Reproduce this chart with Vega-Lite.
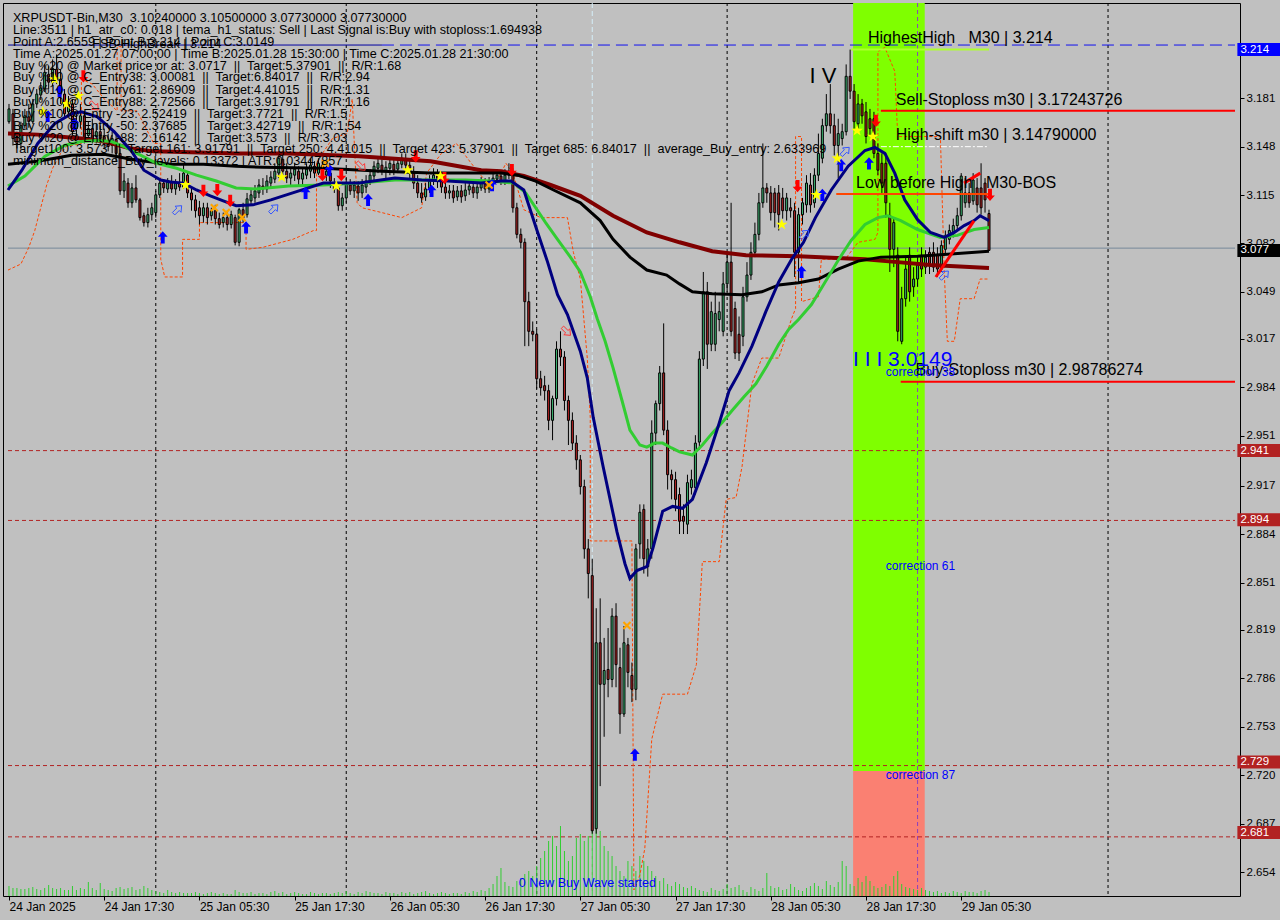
{
"$schema":"https://vega.github.io/schema/vega-lite/v6.json",
"width":1237,"height":893,
"autosize":{"type":"none"},
"padding":{"left":3,"top":3,"right":40,"bottom":24},
"background":"#c0c0c0",
"config":{"font":"Liberation Sans","view":{"stroke":"#000000","strokeWidth":1,"fill":"#c0c0c0"},
"axis":{"domain":false,"grid":false,"labelFont":"Liberation Sans","labelColor":"#000000","tickColor":"#000000","tickSize":4,"labelOverlap":false,"labelFlush":false,"labelBound":false}},
"datasets":{
"candles":[
{"i":0,"o":3.1649,"h":3.1770,"l":3.1635,"c":3.1736,"v":1000},
{"i":1,"o":3.1703,"h":3.1736,"l":3.1487,"c":3.1534,"v":800},
{"i":2,"o":3.1548,"h":3.1581,"l":3.1467,"c":3.1501,"v":800},
{"i":3,"o":3.1501,"h":3.1649,"l":3.1460,"c":3.1622,"v":700},
{"i":4,"o":3.1622,"h":3.1736,"l":3.1602,"c":3.1689,"v":700},
{"i":5,"o":3.1682,"h":3.1770,"l":3.1608,"c":3.1649,"v":800},
{"i":6,"o":3.1649,"h":3.1804,"l":3.1635,"c":3.1770,"v":900},
{"i":7,"o":3.1770,"h":3.1871,"l":3.1743,"c":3.1837,"v":700},
{"i":8,"o":3.1831,"h":3.1918,"l":3.1797,"c":3.1878,"v":600},
{"i":9,"o":3.1871,"h":3.2039,"l":3.1851,"c":3.1985,"v":800},
{"i":10,"o":3.1972,"h":3.2026,"l":3.1871,"c":3.1918,"v":1100},
{"i":11,"o":3.1918,"h":3.2073,"l":3.1891,"c":3.2012,"v":800},
{"i":12,"o":3.2006,"h":3.2107,"l":3.1905,"c":3.1938,"v":700},
{"i":13,"o":3.1938,"h":3.2006,"l":3.1770,"c":3.1837,"v":800},
{"i":14,"o":3.1837,"h":3.1871,"l":3.1669,"c":3.1703,"v":600},
{"i":15,"o":3.1716,"h":3.1824,"l":3.1689,"c":3.1770,"v":600},
{"i":16,"o":3.1770,"h":3.1804,"l":3.1555,"c":3.1581,"v":1000},
{"i":17,"o":3.1602,"h":3.1703,"l":3.1534,"c":3.1649,"v":600},
{"i":18,"o":3.1649,"h":3.1770,"l":3.1602,"c":3.1689,"v":800},
{"i":19,"o":3.1689,"h":3.1716,"l":3.1501,"c":3.1534,"v":700},
{"i":20,"o":3.1555,"h":3.1649,"l":3.1514,"c":3.1602,"v":1400},
{"i":21,"o":3.1602,"h":3.1669,"l":3.1501,"c":3.1534,"v":800},
{"i":22,"o":3.1548,"h":3.1635,"l":3.1501,"c":3.1581,"v":600},
{"i":23,"o":3.1581,"h":3.1622,"l":3.1487,"c":3.1534,"v":1300},
{"i":24,"o":3.1548,"h":3.1602,"l":3.1467,"c":3.1501,"v":700},
{"i":25,"o":3.1514,"h":3.1568,"l":3.1447,"c":3.1480,"v":600},
{"i":26,"o":3.1487,"h":3.1581,"l":3.1433,"c":3.1534,"v":500},
{"i":27,"o":3.1528,"h":3.1568,"l":3.1380,"c":3.1433,"v":800},
{"i":28,"o":3.1433,"h":3.1467,"l":3.1151,"c":3.1178,"v":900},
{"i":29,"o":3.1178,"h":3.1299,"l":3.1130,"c":3.1245,"v":700},
{"i":30,"o":3.1231,"h":3.1265,"l":3.1063,"c":3.1097,"v":800},
{"i":31,"o":3.1097,"h":3.1231,"l":3.1063,"c":3.1198,"v":900},
{"i":32,"o":3.1198,"h":3.1285,"l":3.1097,"c":3.1117,"v":600},
{"i":33,"o":3.1117,"h":3.1130,"l":3.0976,"c":3.0996,"v":700},
{"i":34,"o":3.1009,"h":3.1030,"l":3.0935,"c":3.0962,"v":1000},
{"i":35,"o":3.0962,"h":3.1063,"l":3.0929,"c":3.1016,"v":800},
{"i":36,"o":3.1016,"h":3.1097,"l":3.0976,"c":3.1063,"v":600},
{"i":37,"o":3.1030,"h":3.1178,"l":3.0996,"c":3.1151,"v":500},
{"i":38,"o":3.1151,"h":3.1265,"l":3.1130,"c":3.1231,"v":400},
{"i":39,"o":3.1231,"h":3.1258,"l":3.1164,"c":3.1198,"v":300},
{"i":40,"o":3.1191,"h":3.1265,"l":3.1164,"c":3.1238,"v":600},
{"i":41,"o":3.1238,"h":3.1285,"l":3.1164,"c":3.1191,"v":400},
{"i":42,"o":3.1191,"h":3.1258,"l":3.1151,"c":3.1231,"v":300},
{"i":43,"o":3.1231,"h":3.1299,"l":3.1178,"c":3.1204,"v":400},
{"i":44,"o":3.1204,"h":3.1366,"l":3.1191,"c":3.1299,"v":300},
{"i":45,"o":3.1285,"h":3.1312,"l":3.1130,"c":3.1164,"v":300},
{"i":46,"o":3.1164,"h":3.1198,"l":3.1043,"c":3.1117,"v":300},
{"i":47,"o":3.1117,"h":3.1151,"l":3.0996,"c":3.1043,"v":400},
{"i":48,"o":3.1063,"h":3.1110,"l":3.0949,"c":3.1009,"v":300},
{"i":49,"o":3.1009,"h":3.1097,"l":3.0962,"c":3.1063,"v":200},
{"i":50,"o":3.1063,"h":3.1097,"l":3.0949,"c":3.0996,"v":300},
{"i":51,"o":3.1009,"h":3.1063,"l":3.0976,"c":3.1043,"v":400},
{"i":52,"o":3.1043,"h":3.1083,"l":3.0949,"c":3.0989,"v":300},
{"i":53,"o":3.0989,"h":3.1030,"l":3.0922,"c":3.0949,"v":200},
{"i":54,"o":3.0962,"h":3.1030,"l":3.0929,"c":3.0996,"v":300},
{"i":55,"o":3.0996,"h":3.1043,"l":3.0908,"c":3.0949,"v":200},
{"i":56,"o":3.0949,"h":3.1043,"l":3.0922,"c":3.1016,"v":200},
{"i":57,"o":3.0996,"h":3.1016,"l":3.0807,"c":3.0828,"v":600},
{"i":58,"o":3.0828,"h":3.1063,"l":3.0801,"c":3.1050,"v":400},
{"i":59,"o":3.1050,"h":3.1097,"l":3.0962,"c":3.0996,"v":300},
{"i":60,"o":3.1016,"h":3.1164,"l":3.0996,"c":3.1124,"v":300},
{"i":61,"o":3.1110,"h":3.1198,"l":3.1083,"c":3.1151,"v":400},
{"i":62,"o":3.1130,"h":3.1218,"l":3.1097,"c":3.1178,"v":200},
{"i":63,"o":3.1164,"h":3.1258,"l":3.1130,"c":3.1218,"v":300},
{"i":64,"o":3.1211,"h":3.1265,"l":3.1151,"c":3.1191,"v":300},
{"i":65,"o":3.1191,"h":3.1285,"l":3.1164,"c":3.1245,"v":200},
{"i":66,"o":3.1231,"h":3.1312,"l":3.1204,"c":3.1272,"v":400},
{"i":67,"o":3.1258,"h":3.1366,"l":3.1231,"c":3.1312,"v":500},
{"i":68,"o":3.1299,"h":3.1447,"l":3.1265,"c":3.1400,"v":300},
{"i":69,"o":3.1393,"h":3.1433,"l":3.1285,"c":3.1312,"v":400},
{"i":70,"o":3.1312,"h":3.1366,"l":3.1231,"c":3.1265,"v":200},
{"i":71,"o":3.1265,"h":3.1332,"l":3.1218,"c":3.1299,"v":300},
{"i":72,"o":3.1285,"h":3.1366,"l":3.1245,"c":3.1326,"v":400},
{"i":73,"o":3.1312,"h":3.1346,"l":3.1218,"c":3.1258,"v":300},
{"i":74,"o":3.1258,"h":3.1332,"l":3.1218,"c":3.1299,"v":200},
{"i":75,"o":3.1285,"h":3.1366,"l":3.1258,"c":3.1326,"v":200},
{"i":76,"o":3.1312,"h":3.1400,"l":3.1265,"c":3.1353,"v":400},
{"i":77,"o":3.1346,"h":3.1380,"l":3.1265,"c":3.1299,"v":300},
{"i":78,"o":3.1299,"h":3.1400,"l":3.1285,"c":3.1366,"v":200},
{"i":79,"o":3.1353,"h":3.1393,"l":3.1258,"c":3.1285,"v":300},
{"i":80,"o":3.1285,"h":3.1353,"l":3.1245,"c":3.1312,"v":300},
{"i":81,"o":3.1299,"h":3.1346,"l":3.1198,"c":3.1245,"v":200},
{"i":82,"o":3.1231,"h":3.1265,"l":3.1164,"c":3.1191,"v":300},
{"i":83,"o":3.1198,"h":3.1231,"l":3.1043,"c":3.1077,"v":400},
{"i":84,"o":3.1077,"h":3.1164,"l":3.1043,"c":3.1130,"v":300},
{"i":85,"o":3.1130,"h":3.1265,"l":3.1097,"c":3.1231,"v":500},
{"i":86,"o":3.1218,"h":3.1258,"l":3.1151,"c":3.1178,"v":300},
{"i":87,"o":3.1178,"h":3.1245,"l":3.1130,"c":3.1218,"v":200},
{"i":88,"o":3.1211,"h":3.1245,"l":3.1110,"c":3.1164,"v":400},
{"i":89,"o":3.1164,"h":3.1258,"l":3.1130,"c":3.1218,"v":300},
{"i":90,"o":3.1204,"h":3.1285,"l":3.1164,"c":3.1245,"v":500},
{"i":91,"o":3.1245,"h":3.1326,"l":3.1218,"c":3.1285,"v":400},
{"i":92,"o":3.1279,"h":3.1380,"l":3.1245,"c":3.1346,"v":300},
{"i":93,"o":3.1332,"h":3.1400,"l":3.1299,"c":3.1366,"v":300},
{"i":94,"o":3.1353,"h":3.1393,"l":3.1285,"c":3.1312,"v":200},
{"i":95,"o":3.1312,"h":3.1380,"l":3.1265,"c":3.1339,"v":400},
{"i":96,"o":3.1332,"h":3.1400,"l":3.1285,"c":3.1366,"v":300},
{"i":97,"o":3.1359,"h":3.1393,"l":3.1285,"c":3.1319,"v":300},
{"i":98,"o":3.1326,"h":3.1406,"l":3.1299,"c":3.1366,"v":200},
{"i":99,"o":3.1359,"h":3.1433,"l":3.1332,"c":3.1400,"v":400},
{"i":100,"o":3.1393,"h":3.1433,"l":3.1312,"c":3.1353,"v":300},
{"i":101,"o":3.1353,"h":3.1400,"l":3.1258,"c":3.1299,"v":400},
{"i":102,"o":3.1299,"h":3.1346,"l":3.1191,"c":3.1231,"v":200},
{"i":103,"o":3.1231,"h":3.1285,"l":3.1130,"c":3.1164,"v":300},
{"i":104,"o":3.1164,"h":3.1231,"l":3.1097,"c":3.1130,"v":400},
{"i":105,"o":3.1137,"h":3.1231,"l":3.1110,"c":3.1191,"v":500},
{"i":106,"o":3.1191,"h":3.1285,"l":3.1164,"c":3.1245,"v":300},
{"i":107,"o":3.1245,"h":3.1332,"l":3.1218,"c":3.1285,"v":200},
{"i":108,"o":3.1279,"h":3.1326,"l":3.1198,"c":3.1245,"v":300},
{"i":109,"o":3.1245,"h":3.1285,"l":3.1164,"c":3.1204,"v":400},
{"i":110,"o":3.1204,"h":3.1245,"l":3.1124,"c":3.1164,"v":300},
{"i":111,"o":3.1164,"h":3.1218,"l":3.1124,"c":3.1178,"v":200},
{"i":112,"o":3.1178,"h":3.1218,"l":3.1097,"c":3.1130,"v":300},
{"i":113,"o":3.1137,"h":3.1211,"l":3.1110,"c":3.1178,"v":300},
{"i":114,"o":3.1178,"h":3.1218,"l":3.1097,"c":3.1137,"v":200},
{"i":115,"o":3.1144,"h":3.1231,"l":3.1110,"c":3.1184,"v":400},
{"i":116,"o":3.1184,"h":3.1245,"l":3.1151,"c":3.1211,"v":300},
{"i":117,"o":3.1204,"h":3.1245,"l":3.1130,"c":3.1164,"v":500},
{"i":118,"o":3.1164,"h":3.1245,"l":3.1124,"c":3.1204,"v":400},
{"i":119,"o":3.1198,"h":3.1272,"l":3.1178,"c":3.1231,"v":600},
{"i":120,"o":3.1225,"h":3.1265,"l":3.1164,"c":3.1191,"v":500},
{"i":121,"o":3.1191,"h":3.1272,"l":3.1164,"c":3.1231,"v":800},
{"i":122,"o":3.1225,"h":3.1299,"l":3.1198,"c":3.1265,"v":1200},
{"i":123,"o":3.1258,"h":3.1326,"l":3.1231,"c":3.1285,"v":2000},
{"i":124,"o":3.1279,"h":3.1312,"l":3.1218,"c":3.1245,"v":2800},
{"i":125,"o":3.1245,"h":3.1326,"l":3.1218,"c":3.1285,"v":1400},
{"i":126,"o":3.1285,"h":3.1366,"l":3.1258,"c":3.1312,"v":1000},
{"i":127,"o":3.1299,"h":3.1332,"l":3.1030,"c":3.1063,"v":900},
{"i":128,"o":3.1063,"h":3.1097,"l":3.0855,"c":3.0882,"v":1500},
{"i":129,"o":3.0882,"h":3.0922,"l":3.0787,"c":3.0828,"v":1800},
{"i":130,"o":3.0828,"h":3.0855,"l":3.0121,"c":3.0424,"v":2200},
{"i":131,"o":3.0424,"h":3.0491,"l":3.0121,"c":3.0222,"v":2500},
{"i":132,"o":3.0222,"h":3.0289,"l":3.0154,"c":3.0202,"v":2000},
{"i":133,"o":3.0202,"h":3.0235,"l":2.9831,"c":2.9899,"v":3000},
{"i":134,"o":2.9899,"h":2.9953,"l":2.9784,"c":2.9838,"v":3800},
{"i":135,"o":2.9852,"h":2.9919,"l":2.9751,"c":2.9818,"v":4500},
{"i":136,"o":2.9818,"h":2.9858,"l":2.9549,"c":2.9616,"v":5500},
{"i":137,"o":2.9616,"h":2.9784,"l":2.9481,"c":2.9764,"v":6000},
{"i":138,"o":2.9764,"h":3.0154,"l":2.9717,"c":3.0101,"v":5000},
{"i":139,"o":3.0101,"h":3.0222,"l":2.9986,"c":3.0047,"v":7000},
{"i":140,"o":3.0047,"h":3.0087,"l":2.9683,"c":2.9751,"v":4500},
{"i":141,"o":2.9751,"h":2.9784,"l":2.9448,"c":2.9616,"v":3500},
{"i":142,"o":2.9616,"h":2.9670,"l":2.9414,"c":2.9461,"v":4000},
{"i":143,"o":2.9461,"h":2.9515,"l":2.9280,"c":2.9347,"v":5800},
{"i":144,"o":2.9347,"h":2.9380,"l":2.9111,"c":2.9165,"v":6200},
{"i":145,"o":2.9165,"h":2.9212,"l":2.8674,"c":2.8741,"v":5500},
{"i":146,"o":2.8741,"h":2.8808,"l":2.8404,"c":2.8573,"v":6000},
{"i":147,"o":2.8559,"h":2.8674,"l":2.6802,"c":2.6822,"v":7000},
{"i":148,"o":2.6836,"h":2.8337,"l":2.6802,"c":2.8102,"v":7500},
{"i":149,"o":2.8102,"h":2.8404,"l":2.7126,"c":2.7819,"v":6500},
{"i":150,"o":2.7819,"h":2.8135,"l":2.7462,"c":2.7913,"v":5000},
{"i":151,"o":2.7920,"h":2.8202,"l":2.7731,"c":2.7852,"v":4500},
{"i":152,"o":2.7852,"h":2.8337,"l":2.7799,"c":2.8283,"v":4000},
{"i":153,"o":2.8283,"h":2.8371,"l":2.7799,"c":2.7953,"v":3000},
{"i":154,"o":2.7933,"h":2.8068,"l":2.7482,"c":2.7617,"v":2500},
{"i":155,"o":2.7617,"h":2.8216,"l":2.7597,"c":2.8102,"v":2000},
{"i":156,"o":2.8088,"h":2.8135,"l":2.7799,"c":2.7900,"v":3500},
{"i":157,"o":2.7879,"h":2.7967,"l":2.7698,"c":2.7785,"v":3000},
{"i":158,"o":2.7785,"h":2.8775,"l":2.7711,"c":2.8741,"v":2500},
{"i":159,"o":2.8775,"h":2.9044,"l":2.8674,"c":2.8990,"v":4000},
{"i":160,"o":2.9010,"h":2.9044,"l":2.8573,"c":2.8674,"v":3500},
{"i":161,"o":2.8620,"h":2.8808,"l":2.8552,"c":2.8741,"v":3000},
{"i":162,"o":2.8741,"h":2.9616,"l":2.8674,"c":2.9529,"v":2500},
{"i":163,"o":2.9529,"h":2.9751,"l":2.9448,"c":2.9730,"v":2000},
{"i":164,"o":2.9730,"h":2.9986,"l":2.9683,"c":2.9939,"v":1500},
{"i":165,"o":2.9939,"h":3.0276,"l":2.9515,"c":2.9549,"v":1800},
{"i":166,"o":2.9549,"h":2.9616,"l":2.9145,"c":2.9246,"v":1200},
{"i":167,"o":2.9246,"h":2.9280,"l":2.9078,"c":2.9212,"v":1000},
{"i":168,"o":2.9212,"h":2.9266,"l":2.8997,"c":2.9078,"v":1400},
{"i":169,"o":2.9111,"h":2.9158,"l":2.8842,"c":2.8929,"v":1200},
{"i":170,"o":2.8963,"h":2.9044,"l":2.8842,"c":2.8929,"v":900},
{"i":171,"o":2.8909,"h":2.9246,"l":2.8842,"c":2.9192,"v":800},
{"i":172,"o":2.9158,"h":2.9280,"l":2.9111,"c":2.9212,"v":1000},
{"i":173,"o":2.9158,"h":2.9515,"l":2.9111,"c":2.9461,"v":800},
{"i":174,"o":2.9468,"h":3.0087,"l":2.9414,"c":3.0033,"v":600},
{"i":175,"o":3.0033,"h":3.0626,"l":2.9986,"c":3.0491,"v":500},
{"i":176,"o":3.0491,"h":3.0558,"l":2.9966,"c":3.0134,"v":400},
{"i":177,"o":3.0134,"h":3.0424,"l":3.0087,"c":3.0356,"v":800},
{"i":178,"o":3.0134,"h":3.0491,"l":3.0087,"c":3.0343,"v":600},
{"i":179,"o":3.0302,"h":3.0424,"l":3.0222,"c":3.0356,"v":500},
{"i":180,"o":3.0222,"h":3.0626,"l":3.0188,"c":3.0545,"v":700},
{"i":181,"o":3.0545,"h":3.0760,"l":3.0491,"c":3.0693,"v":1200},
{"i":182,"o":3.0693,"h":3.1097,"l":3.0188,"c":3.0222,"v":800},
{"i":183,"o":3.0377,"h":3.0424,"l":3.0033,"c":3.0074,"v":900},
{"i":184,"o":3.0202,"h":3.0323,"l":3.0020,"c":3.0074,"v":1100},
{"i":185,"o":3.0188,"h":3.0525,"l":3.0121,"c":3.0457,"v":600},
{"i":186,"o":3.0457,"h":3.0693,"l":3.0424,"c":3.0605,"v":400},
{"i":187,"o":3.0605,"h":3.0828,"l":3.0572,"c":3.0760,"v":900},
{"i":188,"o":3.0760,"h":3.0962,"l":3.0727,"c":3.0882,"v":700},
{"i":189,"o":3.0882,"h":3.1164,"l":3.0841,"c":3.1097,"v":500},
{"i":190,"o":3.1097,"h":3.1501,"l":3.1063,"c":3.1198,"v":800},
{"i":191,"o":3.1198,"h":3.1231,"l":3.1097,"c":3.1164,"v":2300},
{"i":192,"o":3.1164,"h":3.1211,"l":3.0976,"c":3.1030,"v":1000},
{"i":193,"o":3.1164,"h":3.1198,"l":3.0929,"c":3.1030,"v":800},
{"i":194,"o":3.1164,"h":3.1218,"l":3.0908,"c":3.1016,"v":900},
{"i":195,"o":3.1130,"h":3.1198,"l":3.0989,"c":3.1043,"v":600},
{"i":196,"o":3.1043,"h":3.1164,"l":3.0976,"c":3.1130,"v":700},
{"i":197,"o":3.1063,"h":3.1130,"l":3.0996,"c":3.1043,"v":1200},
{"i":198,"o":3.1043,"h":3.1097,"l":3.0592,"c":3.0760,"v":900},
{"i":199,"o":3.0760,"h":3.1063,"l":3.0545,"c":3.1016,"v":600},
{"i":200,"o":3.1016,"h":3.1130,"l":3.0949,"c":3.1097,"v":500},
{"i":201,"o":3.1083,"h":3.1285,"l":3.1030,"c":3.1231,"v":800},
{"i":202,"o":3.1218,"h":3.1299,"l":3.1030,"c":3.1083,"v":1000},
{"i":203,"o":3.1097,"h":3.1332,"l":3.1063,"c":3.1285,"v":1300},
{"i":204,"o":3.1285,"h":3.1568,"l":3.1245,"c":3.1433,"v":1000},
{"i":205,"o":3.1400,"h":3.1669,"l":3.1366,"c":3.1622,"v":700},
{"i":206,"o":3.1622,"h":3.1837,"l":3.1581,"c":3.1703,"v":1500},
{"i":207,"o":3.1703,"h":3.1905,"l":3.1568,"c":3.1622,"v":1100},
{"i":208,"o":3.1622,"h":3.1703,"l":3.1420,"c":3.1487,"v":900},
{"i":209,"o":3.1487,"h":3.1669,"l":3.1265,"c":3.1568,"v":1400},
{"i":210,"o":3.1534,"h":3.1635,"l":3.1487,"c":3.1581,"v":3500},
{"i":211,"o":3.1581,"h":3.2039,"l":3.1555,"c":3.1958,"v":3000},
{"i":212,"o":3.1958,"h":3.2140,"l":3.1804,"c":3.1857,"v":1200},
{"i":213,"o":3.1857,"h":3.1905,"l":3.1602,"c":3.1649,"v":1000},
{"i":214,"o":3.1635,"h":3.1837,"l":3.1602,"c":3.1770,"v":1800},
{"i":215,"o":3.1770,"h":3.1804,"l":3.1635,"c":3.1689,"v":1400},
{"i":216,"o":3.1716,"h":3.1783,"l":3.1501,"c":3.1548,"v":2000},
{"i":217,"o":3.1669,"h":3.1736,"l":3.1555,"c":3.1602,"v":1500},
{"i":218,"o":3.1669,"h":3.1716,"l":3.1400,"c":3.1433,"v":1000},
{"i":219,"o":3.1433,"h":3.1501,"l":3.1285,"c":3.1319,"v":800},
{"i":220,"o":3.1366,"h":3.1433,"l":3.1164,"c":3.1231,"v":900},
{"i":221,"o":3.1366,"h":3.1433,"l":3.0996,"c":3.1097,"v":1200},
{"i":222,"o":3.1009,"h":3.1097,"l":3.0626,"c":3.0780,"v":1000},
{"i":223,"o":3.0780,"h":3.0996,"l":3.0659,"c":3.0962,"v":2000},
{"i":224,"o":3.0740,"h":3.0794,"l":3.0154,"c":3.0222,"v":2500},
{"i":225,"o":3.0154,"h":3.0525,"l":3.0134,"c":3.0444,"v":1200},
{"i":226,"o":3.0444,"h":3.0727,"l":3.0390,"c":3.0646,"v":900},
{"i":227,"o":3.0740,"h":3.0794,"l":3.0424,"c":3.0491,"v":800},
{"i":228,"o":3.0525,"h":3.0659,"l":3.0457,"c":3.0578,"v":700},
{"i":229,"o":3.0578,"h":3.0727,"l":3.0525,"c":3.0673,"v":600},
{"i":230,"o":3.0740,"h":3.0794,"l":3.0592,"c":3.0646,"v":800},
{"i":231,"o":3.0659,"h":3.0774,"l":3.0612,"c":3.0727,"v":600},
{"i":232,"o":3.0760,"h":3.0794,"l":3.0612,"c":3.0673,"v":500},
{"i":233,"o":3.0760,"h":3.0828,"l":3.0626,"c":3.0659,"v":400},
{"i":234,"o":3.0740,"h":3.0794,"l":3.0592,"c":3.0646,"v":500},
{"i":235,"o":3.0646,"h":3.0841,"l":3.0626,"c":3.0807,"v":300},
{"i":236,"o":3.0780,"h":3.0908,"l":3.0747,"c":3.0875,"v":400},
{"i":237,"o":3.0848,"h":3.0949,"l":3.0814,"c":3.0908,"v":300},
{"i":238,"o":3.0895,"h":3.0989,"l":3.0861,"c":3.0942,"v":500},
{"i":239,"o":3.0942,"h":3.1063,"l":3.0908,"c":3.1009,"v":400},
{"i":240,"o":3.1009,"h":3.1299,"l":3.0976,"c":3.1279,"v":300},
{"i":241,"o":3.1097,"h":3.1265,"l":3.1063,"c":3.1164,"v":500},
{"i":242,"o":3.1164,"h":3.1231,"l":3.1063,"c":3.1097,"v":400},
{"i":243,"o":3.1110,"h":3.1299,"l":3.1083,"c":3.1252,"v":400},
{"i":244,"o":3.1198,"h":3.1265,"l":3.1030,"c":3.1083,"v":300},
{"i":245,"o":3.1198,"h":3.1366,"l":3.1016,"c":3.1063,"v":500},
{"i":246,"o":3.1231,"h":3.1265,"l":3.1030,"c":3.1117,"v":600},
{"i":247,"o":3.1024,"h":3.1050,"l":3.0773,"c":3.0773,"v":400}
],
"maFast":[
{"i":-0.25,"p":3.1184},{"i":3.25,"p":3.1319},{"i":7.25,"p":3.1501},{"i":11.5,"p":3.1635},{"i":15.75,"p":3.1703},{"i":18.25,"p":3.1716},{"i":22.25,"p":3.1682},{"i":26.5,"p":3.1581},{"i":30.75,"p":3.1453},{"i":34,"p":3.1319},{"i":38.25,"p":3.1252},{"i":40.75,"p":3.1238},{"i":44,"p":3.1231},{"i":47.25,"p":3.1184},{"i":50.75,"p":3.1144},{"i":54,"p":3.1110},{"i":57.25,"p":3.1077},{"i":61.5,"p":3.1083},{"i":66,"p":3.1117},{"i":71.5,"p":3.1164},{"i":79.25,"p":3.1231},{"i":88.25,"p":3.1231},{"i":97.25,"p":3.1265},{"i":104,"p":3.1252},{"i":110.5,"p":3.1245},{"i":119,"p":3.1231},{"i":124,"p":3.1245},{"i":126.5,"p":3.1245},{"i":129.75,"p":3.1184},{"i":133,"p":3.0915},{"i":135.75,"p":3.0693},{"i":138.25,"p":3.0471},{"i":140.75,"p":3.0336},{"i":144,"p":3.0087},{"i":145.75,"p":2.9905},{"i":147.25,"p":2.9636},{"i":149.75,"p":2.9300},{"i":153.25,"p":2.8855},{"i":155.25,"p":2.8640},{"i":156.5,"p":2.8539},{"i":158.25,"p":2.8593},{"i":160.75,"p":2.8620},{"i":162.25,"p":2.8741},{"i":164.75,"p":2.8997},{"i":167.25,"p":2.9030},{"i":169.75,"p":2.9017},{"i":172.25,"p":2.9078},{"i":175.75,"p":2.9327},{"i":179,"p":2.9596},{"i":181.5,"p":2.9818},{"i":184,"p":2.9939},{"i":187.25,"p":3.0121},{"i":190.75,"p":3.0356},{"i":194,"p":3.0558},{"i":197.25,"p":3.0713},{"i":200.25,"p":3.0828},{"i":203.25,"p":3.0996},{"i":207.25,"p":3.1184},{"i":211.5,"p":3.1346},{"i":215.75,"p":3.1453},{"i":218.25,"p":3.1474},{"i":220.75,"p":3.1433},{"i":223.25,"p":3.1299},{"i":225.75,"p":3.1117},{"i":229,"p":3.0982},{"i":232.25,"p":3.0895},{"i":235.75,"p":3.0861},{"i":238.25,"p":3.0895},{"i":240.75,"p":3.0942},{"i":243.25,"p":3.0976},{"i":244.75,"p":3.1009},{"i":247,"p":3.0976}
],
"maMedium":[
{"i":-0.25,"p":3.1211},{"i":4,"p":3.1279},{"i":9,"p":3.1413},{"i":14,"p":3.1487},{"i":18.25,"p":3.1514},{"i":22.25,"p":3.1521},{"i":25.75,"p":3.1514},{"i":29,"p":3.1480},{"i":32.25,"p":3.1433},{"i":37.25,"p":3.1366},{"i":42.25,"p":3.1332},{"i":47.25,"p":3.1285},{"i":52.25,"p":3.1245},{"i":57.25,"p":3.1198},{"i":62.25,"p":3.1191},{"i":70.5,"p":3.1211},{"i":79.25,"p":3.1218},{"i":88.25,"p":3.1231},{"i":97.25,"p":3.1252},{"i":106.5,"p":3.1252},{"i":115,"p":3.1252},{"i":121.5,"p":3.1245},{"i":127.25,"p":3.1231},{"i":130.25,"p":3.1164},{"i":135.25,"p":3.0962},{"i":138.25,"p":3.0848},{"i":141.5,"p":3.0727},{"i":144,"p":3.0626},{"i":146.5,"p":3.0457},{"i":148.25,"p":3.0309},{"i":150.25,"p":3.0154},{"i":152.25,"p":2.9973},{"i":154.5,"p":2.9751},{"i":156.5,"p":2.9549},{"i":159,"p":2.9448},{"i":160.75,"p":2.9434},{"i":162.75,"p":2.9461},{"i":164.75,"p":2.9461},{"i":167,"p":2.9428},{"i":169,"p":2.9401},{"i":172.25,"p":2.9380},{"i":174.75,"p":2.9448},{"i":177.25,"p":2.9529},{"i":179.75,"p":2.9602},{"i":182.25,"p":2.9683},{"i":185.25,"p":2.9777},{"i":188.25,"p":2.9865},{"i":191,"p":2.9986},{"i":194,"p":3.0134},{"i":196.5,"p":3.0235},{"i":199,"p":3.0302},{"i":202.25,"p":3.0404},{"i":205.25,"p":3.0538},{"i":209,"p":3.0706},{"i":212.25,"p":3.0841},{"i":215.75,"p":3.0949},{"i":219,"p":3.0996},{"i":221.5,"p":3.1009},{"i":224.75,"p":3.0976},{"i":229,"p":3.0915},{"i":234.75,"p":3.0861},{"i":239,"p":3.0875},{"i":243.25,"p":3.0915},{"i":247,"p":3.0929}
],
"maSlow":[
{"i":-0.25,"p":3.1359},{"i":7.25,"p":3.1380},{"i":15.75,"p":3.1420},{"i":24,"p":3.1427},{"i":32.25,"p":3.1386},{"i":40.75,"p":3.1359},{"i":49,"p":3.1359},{"i":57.25,"p":3.1346},{"i":64,"p":3.1339},{"i":79.25,"p":3.1332},{"i":94,"p":3.1312},{"i":106.25,"p":3.1299},{"i":124,"p":3.1299},{"i":128.25,"p":3.1285},{"i":132.75,"p":3.1245},{"i":137.25,"p":3.1184},{"i":144,"p":3.1097},{"i":149,"p":3.0976},{"i":152.25,"p":3.0848},{"i":156.5,"p":3.0727},{"i":160.75,"p":3.0639},{"i":165.75,"p":3.0605},{"i":169,"p":3.0545},{"i":172.25,"p":3.0491},{"i":177.25,"p":3.0478},{"i":184.75,"p":3.0471},{"i":189.75,"p":3.0491},{"i":194,"p":3.0538},{"i":199,"p":3.0552},{"i":204,"p":3.0578},{"i":209,"p":3.0646},{"i":214,"p":3.0700},{"i":219.75,"p":3.0727},{"i":229,"p":3.0733},{"i":236.5,"p":3.0747},{"i":247,"p":3.0767}
],
"maSlowest":[
{"i":-0.25,"p":3.1568},{"i":7.25,"p":3.1561},{"i":18.25,"p":3.1534},{"i":24,"p":3.1514},{"i":30.75,"p":3.1467},{"i":36.5,"p":3.1447},{"i":57.25,"p":3.1433},{"i":70.5,"p":3.1433},{"i":88.25,"p":3.1413},{"i":106.25,"p":3.1380},{"i":119,"p":3.1319},{"i":124,"p":3.1312},{"i":129.75,"p":3.1279},{"i":136.5,"p":3.1218},{"i":144,"p":3.1144},{"i":152.25,"p":3.1009},{"i":160.75,"p":3.0895},{"i":169,"p":3.0828},{"i":177.25,"p":3.0767},{"i":185.75,"p":3.0740},{"i":199,"p":3.0733},{"i":215.75,"p":3.0713},{"i":224,"p":3.0693},{"i":232.25,"p":3.0673},{"i":247,"p":3.0653}
],
"stops":[
{"k":0,"i":-0.25,"p":3.0639},{"k":1,"i":3,"p":3.0680},{"k":2,"i":5,"p":3.0794},{"k":3,"i":6.5,"p":3.0908},{"k":4,"i":8,"p":3.1063},{"k":5,"i":9.5,"p":3.1218},{"k":6,"i":11,"p":3.1332},{"k":7,"i":13,"p":3.1433},{"k":8,"i":14.5,"p":3.1480},{"k":9,"i":18.25,"p":3.1501},{"k":10,"i":18.25,"p":3.1938},{"k":11,"i":21,"p":3.1905},{"k":12,"i":24,"p":3.1804},{"k":13,"i":27.25,"p":3.1723},{"k":14,"i":27.25,"p":3.2160},{"k":15,"i":28.25,"p":3.2160},{"k":16,"i":28.25,"p":3.1723},{"k":17,"i":32.25,"p":3.1723},{"k":18,"i":36.5,"p":3.1501},{"k":19,"i":38.25,"p":3.1501},{"k":20,"i":38.25,"p":3.0713},{"k":21,"i":39.25,"p":3.0592},{"k":22,"i":43.75,"p":3.0592},{"k":23,"i":43.75,"p":3.0848},{"k":24,"i":48,"p":3.0848},{"k":25,"i":48,"p":3.0962},{"k":26,"i":59.75,"p":3.0962},{"k":27,"i":59.75,"p":3.0780},{"k":28,"i":64,"p":3.0794},{"k":29,"i":71.5,"p":3.0848},{"k":30,"i":76.75,"p":3.0908},{"k":31,"i":77.5,"p":3.0908},{"k":32,"i":77.5,"p":3.1366},{"k":33,"i":79,"p":3.1433},{"k":34,"i":81.5,"p":3.1534},{"k":35,"i":85.25,"p":3.1568},{"k":36,"i":86.5,"p":3.1804},{"k":37,"i":87.75,"p":3.1097},{"k":38,"i":89,"p":3.1063},{"k":39,"i":94,"p":3.1030},{"k":40,"i":99,"p":3.0996},{"k":41,"i":104,"p":3.1063},{"k":42,"i":105.25,"p":3.1299},{"k":43,"i":109,"p":3.1433},{"k":44,"i":112.75,"p":3.1501},{"k":45,"i":116.5,"p":3.1366},{"k":46,"i":121.5,"p":3.1198},{"k":47,"i":124,"p":3.1299},{"k":48,"i":125.25,"p":3.1366},{"k":49,"i":127,"p":3.1299},{"k":50,"i":129.75,"p":3.1050},{"k":51,"i":134,"p":3.0996},{"k":52,"i":140.75,"p":3.0996},{"k":53,"i":142.25,"p":3.0760},{"k":54,"i":144,"p":3.0578},{"k":55,"i":145.75,"p":3.0040},{"k":56,"i":146.5,"p":2.9636},{"k":57,"i":146.5,"p":2.8795},{"k":58,"i":157,"p":2.8795},{"k":59,"i":157.5,"p":2.6419},{"k":60,"i":159,"p":2.6520},{"k":61,"i":160.25,"p":2.6702},{"k":62,"i":162,"p":2.7445},{"k":63,"i":164.75,"p":2.7752},{"k":64,"i":171,"p":2.7752},{"k":65,"i":173.25,"p":2.7953},{"k":66,"i":174.75,"p":2.8654},{"k":67,"i":179,"p":2.8654},{"k":68,"i":180.75,"p":2.9078},{"k":69,"i":183.25,"p":2.9091},{"k":70,"i":184.75,"p":2.9300},{"k":71,"i":187.25,"p":2.9865},{"k":72,"i":189.75,"p":3.0040},{"k":73,"i":194,"p":3.0040},{"k":74,"i":197.25,"p":3.0309},{"k":75,"i":198.25,"p":3.0377},{"k":76,"i":198.25,"p":3.1548},{"k":77,"i":199.75,"p":3.1548},{"k":78,"i":199.75,"p":3.0424},{"k":79,"i":204,"p":3.0457},{"k":80,"i":204.75,"p":3.0713},{"k":81,"i":210.75,"p":3.0713},{"k":82,"i":214,"p":3.0828},{"k":83,"i":218.25,"p":3.0848},{"k":84,"i":219,"p":3.0895},{"k":85,"i":219,"p":3.2127},{"k":86,"i":220.75,"p":3.2154},{"k":87,"i":223.25,"p":3.1992},{"k":88,"i":224,"p":3.1548},{"k":89,"i":234.75,"p":3.1548},{"k":90,"i":235.75,"p":3.0605},{"k":91,"i":236.5,"p":3.0154},{"k":92,"i":238.25,"p":3.0154},{"k":93,"i":239.75,"p":3.0444},{"k":94,"i":243.25,"p":3.0444},{"k":95,"i":244.75,"p":3.0578},{"k":96,"i":247,"p":3.0578}
],
"zones":[
{"zone":"correction 61","i":212.75,"i1":230.8,"p0":2.7254,"p1":3.2423},
{"zone":"correction 87","i":212.75,"i1":230.8,"p0":2.6412,"p1":2.7254}
],
"days":[{"i":37,"day":"25 Jan"},{"i":85,"day":"26 Jan"},{"i":133,"day":"27 Jan"},{"i":181,"day":"28 Jan"},{"i":229,"day":"29 Jan"},{"i":277,"day":"30 Jan"}],
"times":[{"i":147,"name":"Time A"}],
"levels":[
{"name":"Point B","i":-0.25,"i1":94,"p":3.214},
{"name":"FSB-HighBreak","i":94,"i1":309,"p":3.214},
{"name":"Bid","i":-0.25,"i1":309,"p":3.0773},
{"name":"Level 2.941","i":-0.25,"i1":309,"p":2.941},
{"name":"Level 2.894","i":-0.25,"i1":309,"p":2.894},
{"name":"Level 2.729","i":-0.25,"i1":309,"p":2.729},
{"name":"Level 2.681","i":-0.25,"i1":309,"p":2.681},
{"name":"HighestHigh","i":212.25,"i1":247,"p":3.214},
{"name":"Sell-Stoploss","i":219.75,"i1":309,"p":3.17243726},
{"name":"High-shift","i":219.75,"i1":246.5,"p":3.1479},
{"name":"Low before High","i":208.5,"i1":247,"p":3.1157},
{"name":"Buy-Stoploss","i":224.75,"i1":309,"p":2.98786274}
],
"trend":[{"seg":"a","i":233.6,"p":3.0592},{"seg":"a","i":243.2,"p":3.0974},{"seg":"b","i":240.7,"p":3.1231},{"seg":"b","i":244.8,"p":3.1299}],
"signals":[
{"signal":"buy","i":9.75,"p":3.1689},{"signal":"buy","i":12.75,"p":3.1857},{"signal":"buy","i":16.5,"p":3.1635},{"signal":"buy","i":38.75,"p":3.0861},{"signal":"buy","i":59.75,"p":3.0929},{"signal":"buy","i":74.75,"p":3.1164},{"signal":"buy","i":80.75,"p":3.1319},{"signal":"buy","i":90.5,"p":3.1117},{"signal":"buy","i":106.5,"p":3.1178},{"signal":"buy","i":121.75,"p":3.1218},{"signal":"buy","i":157.75,"p":2.7341},{"signal":"buy","i":199.75,"p":3.0626},{"signal":"buy","i":205,"p":3.1151},{"signal":"buy","i":209.75,"p":3.1353},{"signal":"buy","i":216.75,"p":3.1366},
{"signal":"sell","i":18.75,"p":3.1958},{"signal":"sell","i":49,"p":3.1178},{"signal":"sell","i":52.5,"p":3.1184},{"signal":"sell","i":55.75,"p":3.1110},{"signal":"sell","i":79,"p":3.1285},{"signal":"sell","i":83.75,"p":3.1285},{"signal":"sell","i":102.5,"p":3.1413},{"signal":"sell","i":109.75,"p":3.1265},{"signal":"sell","i":126.75,"p":3.1319},{"signal":"sell","i":198.75,"p":3.1211},{"signal":"sell","i":218.5,"p":3.1655},{"signal":"sell","i":247.25,"p":3.1151},
{"signal":"star","i":8.5,"p":3.1716},{"signal":"star","i":11.5,"p":3.1938},{"signal":"star","i":14.5,"p":3.1770},{"signal":"star","i":17.5,"p":3.1824},{"signal":"star","i":44.5,"p":3.1218},{"signal":"star","i":68.75,"p":3.1272},{"signal":"star","i":82.5,"p":3.1211},{"signal":"star","i":100.5,"p":3.1319},{"signal":"star","i":108.75,"p":3.1279},{"signal":"star","i":194.75,"p":3.0949},{"signal":"star","i":203.5,"p":3.1151},{"signal":"star","i":208.75,"p":3.1400},{"signal":"star","i":213.75,"p":3.1588},{"signal":"star","i":217.75,"p":3.1548},
{"signal":"cross","i":51.75,"p":3.1063},{"signal":"cross","i":54.75,"p":3.1030},{"signal":"cross","i":58.75,"p":3.0996},{"signal":"cross","i":79.75,"p":3.1366},{"signal":"cross","i":121,"p":3.1218},{"signal":"cross","i":155.75,"p":2.8219},
{"signal":"buy2","i":42.5,"p":3.1050},{"signal":"buy2","i":66.75,"p":3.1056},{"signal":"buy2","i":200.5,"p":3.0882},{"signal":"buy2","i":210.75,"p":3.1447},{"signal":"buy2","i":235.75,"p":3.0605},
{"signal":"sell2","i":21.5,"p":3.1756},{"signal":"sell2","i":88.75,"p":3.1346},{"signal":"sell2","i":140.5,"p":3.0222}
],
"header":[
{"line":"XRPUSDT-Bin,M30\u00a0\u00a03.10240000 3.10500000 3.07730000 3.07730000","i":1,"p":3.2358},
{"line":"Line:3511 | h1_atr_c0: 0.018 | tema_h1_status: Sell | Last Signal is:Buy with stoploss:1.694938","i":1,"p":3.2273},
{"line":"Point A:2.6559 | Point B:3.214 | Point C:3.0149","i":1,"p":3.2192},
{"line":"FSB-HighBreak | 3.214","i":21,"p":3.2181},
{"line":"Time A:2025.01.27 07:00:00 | Time B:2025.01.28 15:30:00 | Time C:2025.01.28 21:30:00","i":1,"p":3.2107},
{"line":"Buy %20 @ Market price or at: 3.0717\u00a0 ||\u00a0 Target:5.37901\u00a0 ||\u00a0 R/R:1.68","i":1,"p":3.2026},
{"line":"Buy %10 @ C_Entry38: 3.00081\u00a0 ||\u00a0 Target:6.84017\u00a0 ||\u00a0 R/R:2.94","i":1,"p":3.1950},
{"line":"Buy %10 @ C_Entry61: 2.86909\u00a0 ||\u00a0 Target:4.41015\u00a0 ||\u00a0 R/R:1.31","i":1,"p":3.1864},
{"line":"Buy %10 @ C_Entry88: 2.72566\u00a0 ||\u00a0 Target:3.91791\u00a0 ||\u00a0 R/R:1.16","i":1,"p":3.1783},
{"line":"Buy %10 @ Entry -23: 2.52419\u00a0 ||\u00a0 Target:3.7721\u00a0 ||\u00a0 R/R:1.5","i":1,"p":3.1703},
{"line":"Buy %20 @ Entry -50: 2.37685\u00a0 ||\u00a0 Target:3.42719\u00a0 ||\u00a0 R/R:1.54","i":1,"p":3.1622},
{"line":"Buy %20 @ Entry -88: 2.16142\u00a0 ||\u00a0 Target:3.573\u00a0 ||\u00a0 R/R:3.03","i":1,"p":3.1541},
{"line":"Target100: 3.573\u00a0 ||\u00a0 Target 161: 3.91791\u00a0 ||\u00a0 Target 250: 4.41015\u00a0 ||\u00a0 Target 423: 5.37901\u00a0 ||\u00a0 Target 685: 6.84017\u00a0 ||\u00a0 average_Buy_entry: 2.633969","i":1,"p":3.1462},
{"line":"minimum_distance_Buy_levels: 0.13372 | ATR:0.03447857","i":1,"p":3.1384}
],
"notes":[
{"text":"HighestHigh\u00a0\u00a0\u00a0M30 | 3.214","i":216.5,"p":3.2221,"kind":"level"},
{"text":"Sell-Stoploss m30 | 3.17243726","i":223.5,"p":3.1799,"kind":"level"},
{"text":"High-shift m30 | 3.14790000","i":223.5,"p":3.1557,"kind":"level"},
{"text":"Low before High\u00a0\u00a0\u00a0M30-BOS","i":213.5,"p":3.1231,"kind":"level"},
{"text":"Buy-Stoploss m30 | 2.98786274","i":228.5,"p":2.9959,"kind":"level"},
{"text":"I\u00a0V","i":201.75,"p":3.1961,"kind":"wave"},
{"text":"I I I 3.0149","i":212.75,"p":3.0026,"kind":"wave point"},
{"text":"correction 38","i":221,"p":2.9946,"kind":"correction"},
{"text":"correction 61","i":221,"p":2.8627,"kind":"correction"},
{"text":"correction 87","i":221,"p":2.7200,"kind":"correction"},
{"text":"0 New Buy Wave started","i":128.5,"p":2.6466,"kind":"status"}
],
"tags":[
{"label":"3.214","i":309.6,"i1":321,"p":3.214,"kind":"high"},
{"label":"3.077","i":309.6,"i1":321,"p":3.0773,"kind":"bid"},
{"label":"2.941","i":309.6,"i1":321,"p":2.941,"kind":"level"},
{"label":"2.894","i":309.6,"i1":321,"p":2.894,"kind":"level"},
{"label":"2.729","i":309.6,"i1":321,"p":2.729,"kind":"level"},
{"label":"2.681","i":309.6,"i1":321,"p":2.681,"kind":"level"}
]
},
"encoding":{"x":{"field":"i","type":"quantitative","title":null,"scale":{"domain":[-0.25,309],"nice":false,"zero":false},
"axis":{"orient":"bottom","values":[0,24,48,72,96,120,144,168,192,216,240],"labelExpr":"['24 Jan 2025','24 Jan 17:30','25 Jan 05:30','25 Jan 17:30','26 Jan 05:30','26 Jan 17:30','27 Jan 05:30','27 Jan 17:30','28 Jan 05:30','28 Jan 17:30','29 Jan 05:30'][round(datum.value/24)]","labelAlign":"left","labelFontSize":12,"labelPadding":1,"tickSize":4}}},
"resolve":{"scale":{"y":"independent","color":"independent"}},
"layer":[
{"layer":[
 {"data":{"name":"zones"},"mark":{"type":"rect"},"encoding":{"x2":{"field":"i1"},"y":{"field":"p0","type":"quantitative","scale":{"domain":[2.6412,3.2423],"nice":false,"zero":false},"axis":null,"title":null},"y2":{"field":"p1"},"color":{"field":"zone","type":"nominal","scale":{"domain":["correction 61","correction 87"],"range":["#7fff00","#fa8072"]},"legend":null}}},
 {"data":{"name":"days"},"transform":[{"filter":"datum.day != '29 Jan'"}],"mark":{"type":"rule","color":"#000000","strokeWidth":1,"strokeDash":[3,3]},"encoding":{}},
 {"data":{"name":"days"},"transform":[{"filter":"datum.day == '29 Jan'"}],"mark":{"type":"rule","color":"#8a3fc0","strokeWidth":1,"strokeDash":[4,3]},"encoding":{}},
 {"data":{"name":"times"},"mark":{"type":"rule","color":"#d4eef8","strokeWidth":1,"strokeDash":[5,3]},"encoding":{}},
 {"data":{"name":"levels"},"transform":[{"filter":"datum.name == 'Point B'"}],"mark":{"type":"rule","color":"#0000a0","strokeWidth":1},"encoding":{"x2":{"field":"i1"},"y":{"field":"p","type":"quantitative","scale":{"domain":[2.6412,3.2423],"nice":false,"zero":false},"axis":null,"title":null}}},
 {"data":{"name":"levels"},"transform":[{"filter":"datum.name == 'FSB-HighBreak'"}],"mark":{"type":"rule","color":"#1010f0","strokeWidth":1,"strokeDash":[12,6]},"encoding":{"x2":{"field":"i1"},"y":{"field":"p","type":"quantitative","scale":{"domain":[2.6412,3.2423],"nice":false,"zero":false},"axis":null,"title":null}}},
 {"data":{"name":"levels"},"transform":[{"filter":"datum.name == 'Bid'"}],"mark":{"type":"rule","color":"#778899","strokeWidth":1},"encoding":{"x2":{"field":"i1"},"y":{"field":"p","type":"quantitative","scale":{"domain":[2.6412,3.2423],"nice":false,"zero":false},"axis":null,"title":null}}},
 {"data":{"name":"levels"},"transform":[{"filter":"indexof(datum.name, 'Level') == 0"}],"mark":{"type":"rule","color":"#b22222","strokeWidth":1,"strokeDash":[4,3]},"encoding":{"x2":{"field":"i1"},"y":{"field":"p","type":"quantitative","scale":{"domain":[2.6412,3.2423],"nice":false,"zero":false},"axis":null,"title":null}}}
]},
{"data":{"name":"candles"},"mark":{"type":"rule","color":"#32cd32","strokeWidth":1},"encoding":{"y":{"field":"v","type":"quantitative","scale":{"domain":[0,89300],"nice":false},"axis":null,"title":null},"y2":{"datum":0}}},
{"layer":[
 {"data":{"name":"stops"},"mark":{"type":"line","color":"#ff4500","strokeWidth":1,"strokeDash":[3,2]},"encoding":{"y":{"field":"p","type":"quantitative","scale":{"domain":[2.6412,3.2423],"nice":false,"zero":false},"title":null},"order":{"field":"k","type":"quantitative"}}},
 {"data":{"name":"candles"},"mark":{"type":"rule","color":"#000000","strokeWidth":1},"encoding":{"y":{"field":"l","type":"quantitative","scale":{"domain":[2.6412,3.2423],"nice":false,"zero":false},"title":null,"axis":{"orient":"right","values":[2.654,2.687,2.72,2.753,2.786,2.819,2.851,2.884,2.917,2.951,2.984,3.017,3.049,3.082,3.115,3.148,3.181,3.214],"format":".3f","labelFontSize":11.5,"labelPadding":2,"tickSize":4}},"y2":{"field":"h"}}},
 {"data":{"name":"candles"},"mark":{"type":"bar","size":2,"stroke":"#000000","strokeWidth":1},"encoding":{"y":{"field":"o","type":"quantitative","scale":{"domain":[2.6412,3.2423],"nice":false,"zero":false},"title":null},"y2":{"field":"c"},"color":{"condition":{"test":"datum.c < datum.o","value":"#b22222"},"value":"#3cb371"}}},
 {"data":{"name":"maSlowest"},"mark":{"type":"line","color":"#800000","strokeWidth":4},"encoding":{"y":{"field":"p","type":"quantitative","scale":{"domain":[2.6412,3.2423],"nice":false,"zero":false},"title":null}}},
 {"data":{"name":"maSlow"},"mark":{"type":"line","color":"#000000","strokeWidth":3},"encoding":{"y":{"field":"p","type":"quantitative","scale":{"domain":[2.6412,3.2423],"nice":false,"zero":false},"title":null}}},
 {"data":{"name":"maMedium"},"mark":{"type":"line","color":"#32cd32","strokeWidth":3},"encoding":{"y":{"field":"p","type":"quantitative","scale":{"domain":[2.6412,3.2423],"nice":false,"zero":false},"title":null}}},
 {"data":{"name":"maFast"},"mark":{"type":"line","color":"#000080","strokeWidth":3},"encoding":{"y":{"field":"p","type":"quantitative","scale":{"domain":[2.6412,3.2423],"nice":false,"zero":false},"title":null}}},
 {"data":{"name":"trend"},"mark":{"type":"line","color":"#ff0000","strokeWidth":3},"encoding":{"y":{"field":"p","type":"quantitative","scale":{"domain":[2.6412,3.2423],"nice":false,"zero":false},"title":null},"detail":{"field":"seg"}}},
 {"data":{"name":"levels"},"transform":[{"filter":"datum.name == 'HighestHigh'"}],"mark":{"type":"rule","color":"#adff2f","strokeWidth":2},"encoding":{"x2":{"field":"i1"},"y":{"field":"p","type":"quantitative","scale":{"domain":[2.6412,3.2423],"nice":false,"zero":false},"title":null}}},
 {"data":{"name":"levels"},"transform":[{"filter":"datum.name == 'Sell-Stoploss' || datum.name == 'Buy-Stoploss'"}],"mark":{"type":"rule","color":"#ff0000","strokeWidth":2},"encoding":{"x2":{"field":"i1"},"y":{"field":"p","type":"quantitative","scale":{"domain":[2.6412,3.2423],"nice":false,"zero":false},"title":null}}},
 {"data":{"name":"levels"},"transform":[{"filter":"datum.name == 'High-shift'"}],"mark":{"type":"rule","color":"#ffffff","strokeWidth":1,"strokeDash":[6,2,2,2]},"encoding":{"x2":{"field":"i1"},"y":{"field":"p","type":"quantitative","scale":{"domain":[2.6412,3.2423],"nice":false,"zero":false},"title":null}}},
 {"data":{"name":"levels"},"transform":[{"filter":"datum.name == 'Low before High'"}],"mark":{"type":"rule","color":"#ff4500","strokeWidth":2},"encoding":{"x2":{"field":"i1"},"y":{"field":"p","type":"quantitative","scale":{"domain":[2.6412,3.2423],"nice":false,"zero":false},"title":null}}},
 {"data":{"name":"signals"},"transform":[{"filter":"datum.signal == 'buy' || datum.signal == 'sell' || datum.signal == 'star' || datum.signal == 'cross'"}],"mark":{"type":"point","filled":true,"opacity":1,"size":150},"encoding":{"y":{"field":"p","type":"quantitative","scale":{"domain":[2.6412,3.2423],"nice":false,"zero":false},"title":null},"shape":{"field":"signal","type":"nominal","scale":{"domain":["buy","sell","star","cross","buy2","sell2"],"range":["M0,-1L0.8,-0.1L0.32,-0.1L0.32,1L-0.32,1L-0.32,-0.1L-0.8,-0.1Z","M0,1L0.8,0.1L0.32,0.1L0.32,-1L-0.32,-1L-0.32,0.1L-0.8,0.1Z","M0,-1L0.24,-0.31L0.95,-0.31L0.38,0.12L0.59,0.81L0,0.38L-0.59,0.81L-0.38,0.12L-0.95,-0.31L-0.24,-0.31Z","M-0.7,-0.45L-0.45,-0.7L0,-0.25L0.45,-0.7L0.7,-0.45L0.25,0L0.7,0.45L0.45,0.7L0,0.25L-0.45,0.7L-0.7,0.45L-0.25,0Z","M0.707,-0.707L0.601,0.46L0.283,0.141L-0.495,0.919L-0.919,0.495L-0.141,-0.283L-0.46,-0.601Z","M0.707,0.707L0.601,-0.46L0.283,-0.141L-0.495,-0.919L-0.919,-0.495L-0.141,0.283L-0.46,0.601Z"]},"legend":null},"color":{"field":"signal","type":"nominal","scale":{"domain":["buy","sell","star","cross","buy2","sell2"],"range":["#0000ff","#ff0000","#ffff00","#ffa500","#3355ff","#ff3333"]},"legend":null}}},
 {"data":{"name":"signals"},"transform":[{"filter":"datum.signal == 'buy2' || datum.signal == 'sell2'"}],"mark":{"type":"point","filled":false,"opacity":1,"size":130,"strokeWidth":1},"encoding":{"y":{"field":"p","type":"quantitative","scale":{"domain":[2.6412,3.2423],"nice":false,"zero":false},"title":null},"shape":{"field":"signal","type":"nominal","scale":{"domain":["buy","sell","star","cross","buy2","sell2"],"range":["M0,-1L0.8,-0.1L0.32,-0.1L0.32,1L-0.32,1L-0.32,-0.1L-0.8,-0.1Z","M0,1L0.8,0.1L0.32,0.1L0.32,-1L-0.32,-1L-0.32,0.1L-0.8,0.1Z","M0,-1L0.24,-0.31L0.95,-0.31L0.38,0.12L0.59,0.81L0,0.38L-0.59,0.81L-0.38,0.12L-0.95,-0.31L-0.24,-0.31Z","M-0.7,-0.45L-0.45,-0.7L0,-0.25L0.45,-0.7L0.7,-0.45L0.25,0L0.7,0.45L0.45,0.7L0,0.25L-0.45,0.7L-0.7,0.45L-0.25,0Z","M0.707,-0.707L0.601,0.46L0.283,0.141L-0.495,0.919L-0.919,0.495L-0.141,-0.283L-0.46,-0.601Z","M0.707,0.707L0.601,-0.46L0.283,-0.141L-0.495,-0.919L-0.919,-0.495L-0.141,0.283L-0.46,0.601Z"]},"legend":null},"color":{"field":"signal","type":"nominal","scale":{"domain":["buy","sell","star","cross","buy2","sell2"],"range":["#0000ff","#ff0000","#ffff00","#ffa500","#3355ff","#ff3333"]},"legend":null}}},
 {"data":{"name":"header"},"mark":{"type":"text","align":"left","baseline":"middle","fontSize":12.6,"color":"#000000","font":"Liberation Sans"},"encoding":{"y":{"field":"p","type":"quantitative","scale":{"domain":[2.6412,3.2423],"nice":false,"zero":false},"title":null},"text":{"field":"line"}}},
 {"data":{"name":"notes"},"transform":[{"filter":"datum.kind == 'level'"}],"mark":{"type":"text","align":"left","baseline":"middle","fontSize":16,"color":"#000000","font":"Liberation Sans"},"encoding":{"y":{"field":"p","type":"quantitative","scale":{"domain":[2.6412,3.2423],"nice":false,"zero":false},"title":null},"text":{"field":"text"}}},
 {"data":{"name":"notes"},"transform":[{"filter":"datum.kind == 'wave'"}],"mark":{"type":"text","align":"left","baseline":"middle","fontSize":22,"color":"#000000","font":"Liberation Sans"},"encoding":{"y":{"field":"p","type":"quantitative","scale":{"domain":[2.6412,3.2423],"nice":false,"zero":false},"title":null},"text":{"field":"text"}}},
 {"data":{"name":"notes"},"transform":[{"filter":"datum.kind == 'wave point'"}],"mark":{"type":"text","align":"left","baseline":"middle","fontSize":21,"color":"#0000ff","font":"Liberation Sans"},"encoding":{"y":{"field":"p","type":"quantitative","scale":{"domain":[2.6412,3.2423],"nice":false,"zero":false},"title":null},"text":{"field":"text"}}},
 {"data":{"name":"notes"},"transform":[{"filter":"datum.kind == 'correction'"}],"mark":{"type":"text","align":"left","baseline":"middle","fontSize":12,"color":"#0000ff","font":"Liberation Sans"},"encoding":{"y":{"field":"p","type":"quantitative","scale":{"domain":[2.6412,3.2423],"nice":false,"zero":false},"title":null},"text":{"field":"text"}}},
 {"data":{"name":"notes"},"transform":[{"filter":"datum.kind == 'status'"}],"mark":{"type":"text","align":"left","baseline":"middle","fontSize":12.5,"color":"#0000ff","font":"Liberation Sans"},"encoding":{"y":{"field":"p","type":"quantitative","scale":{"domain":[2.6412,3.2423],"nice":false,"zero":false},"title":null},"text":{"field":"text"}}},
 {"data":{"name":"tags"},"mark":{"type":"bar","orient":"horizontal","size":13},"encoding":{"x2":{"field":"i1"},"y":{"field":"p","type":"quantitative","scale":{"domain":[2.6412,3.2423],"nice":false,"zero":false},"title":null},"fill":{"field":"kind","type":"nominal","scale":{"domain":["high","bid","level"],"range":["#0000ff","#000000","#b22222"]},"legend":null}}},
 {"data":{"name":"tags"},"mark":{"type":"text","align":"left","baseline":"middle","fontSize":11.5,"dx":3,"color":"#ffffff","font":"Liberation Sans"},"encoding":{"y":{"field":"p","type":"quantitative","scale":{"domain":[2.6412,3.2423],"nice":false,"zero":false},"title":null},"text":{"field":"label"}}}
]}
]
}
